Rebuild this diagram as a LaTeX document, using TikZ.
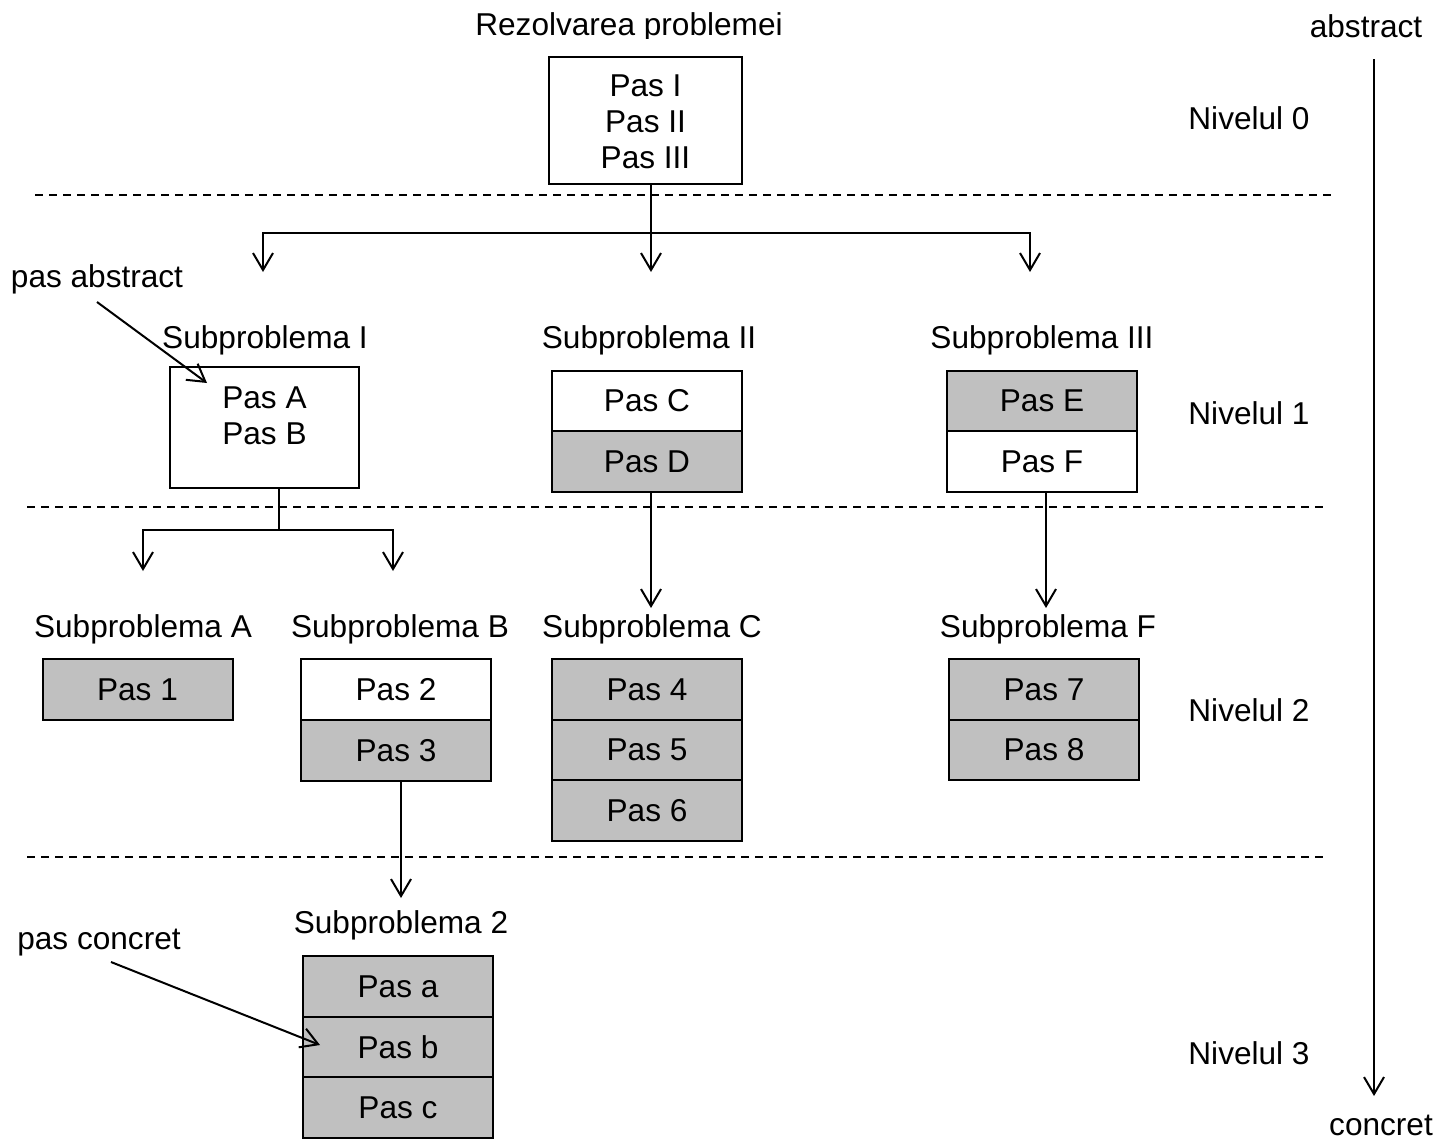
\documentclass[tikz,border=0pt]{standalone}
\usepackage{fontspec}
\setmainfont{Liberation Sans}
\usetikzlibrary{arrows.meta}
\definecolor{cellgray}{HTML}{C0C0C0}
\begin{document}
\begin{tikzpicture}[x=0.5pt,y=-0.5pt,
  font=\fontsize{15.8pt}{18pt}\selectfont,
  cell/.style={draw, line width=1pt, fill=white, minimum width=95pt,
    minimum height=30.25pt, inner sep=0pt},
  graycell/.style={cell, fill=cellgray},
  lbl/.style={inner sep=0pt, anchor=base},
  arr/.style={line width=1pt, -{Straight Barb[length=8.5pt,width=10pt,line width=1pt]}},
  levelsep/.style={line width=0.8pt, dash pattern=on 4pt off 3pt},
]
\useasboundingbox (0,0) rectangle (1449,1140);

% title, its descenders cut off by the edge above the box
\begin{scope}
  \clip (0,0) rectangle (1449,38);
  \node[lbl] (title) at (629,35) {Rezolvarea problemei};
\end{scope}

% level 0
\node[draw, line width=1pt, minimum width=96.5pt, minimum height=63.5pt, inner sep=0pt]
  (top) at (645.5,120.5) {};
\node[align=center, inner sep=0pt] (toptext) at (645.5,122) {Pas I\\Pas II\\Pas III};

% level separators
\coordinate (s1a) at (35,195);   \coordinate (s1b) at (1332,195);
\coordinate (s2a) at (27,507);   \coordinate (s2b) at (1325,507);
\coordinate (s3a) at (27,857);   \coordinate (s3b) at (1325,857);
\draw[levelsep] (s1a) -- (s1b);
\draw[levelsep] (s2a) -- (s2b);
\draw[levelsep] (s3a) -- (s3b);

% level 1
\node[lbl] (subI)   at (265,348)  {Subproblema I};
\node[lbl] (subII)  at (649,348)  {Subproblema II};
\node[lbl] (subIII) at (1042,348) {Subproblema III};

\node[draw, line width=1pt, minimum width=94.5pt, minimum height=60.5pt, inner sep=0pt]
  (boxI) at (264.5,427.5) {};
\node[align=center, inner sep=0pt] (boxItext) at (264.5,416) {Pas A\\Pas B};

\node[cell]     (pc) at (647,401)    {Pas C};
\node[graycell] (pd) at (647,461.5)  {Pas D};
\node[graycell] (pe) at (1042,401)   {Pas E};
\node[cell]     (pf) at (1042,461.5) {Pas F};

% level 2
\node[lbl] (subA) at (143,637)  {Subproblema A};
\node[lbl] (subB) at (400,637)  {Subproblema B};
\node[lbl] (subC) at (652,637)  {Subproblema C};
\node[lbl] (subF) at (1048,637) {Subproblema F};

\node[graycell] (p1) at (137.5,689.5) {Pas 1};
\node[cell]     (p2) at (396,689.5)   {Pas 2};
\node[graycell] (p3) at (396,750.5)   {Pas 3};
\node[graycell] (p4) at (647,689.5)   {Pas 4};
\node[graycell] (p5) at (647,750)     {Pas 5};
\node[graycell] (p6) at (647,810.5)   {Pas 6};
\node[graycell] (p7) at (1044,689.5)  {Pas 7};
\node[graycell] (p8) at (1044,750)    {Pas 8};

% level 3
\node[lbl] (sub2) at (401,933) {Subproblema 2};
\node[graycell] (pa) at (398,986.5)  {Pas a};
\node[graycell] (pb) at (398,1047)   {Pas b};
\node[graycell] (pcc) at (398,1107.5) {Pas c};

% level names
\node[lbl] (n0) at (1249,129)  {Nivelul 0};
\node[lbl] (n1) at (1249,424)  {Nivelul 1};
\node[lbl] (n2) at (1249,721)  {Nivelul 2};
\node[lbl] (n3) at (1249,1064) {Nivelul 3};

% abstraction axis
\node[lbl] (abs) at (1366,37)   {abstract};
\node[lbl] (con) at (1381,1135) {concret};
\coordinate (axtop) at (1374,59);
\coordinate (axbot) at (1374,1096);
\draw[arr] (axtop) -- (axbot);

% annotations
\node[lbl] (pasabs) at (97,287) {pas abstract};
\node[lbl] (pascon) at (99,949) {pas concret};
\coordinate (pasabsA) at (97,302);  \coordinate (pasabsB) at (207,383);
\coordinate (pasconA) at (111,962); \coordinate (pasconB) at (320,1045);
\draw[arr] (pasabsA) -- (pasabsB);
\draw[arr] (pasconA) -- (pasconB);

% decomposition arrows
\coordinate (j0) at (651,233);
\coordinate (t1) at (263,272);
\coordinate (t2) at (651,272);
\coordinate (t3) at (1030,272);
\draw[line width=1pt] (top.south -| j0) -- (j0);
\draw[arr] (j0) -- (t2);
\draw[arr] (j0) -| (t1);
\draw[arr] (j0) -| (t3);

\coordinate (j1) at (279,530);
\coordinate (tA) at (143,571);
\coordinate (tB) at (393,571);
\draw[line width=1pt] (boxI.south -| j1) -- (j1);
\draw[arr] (j1) -| (tA);
\draw[arr] (j1) -| (tB);

\coordinate (tC) at (651,608);
\coordinate (tF) at (1046,608);
\coordinate (t2b) at (401,898);
\draw[arr] (pd.south -| tC) -- (tC);
\draw[arr] (pf.south -| tF) -- (tF);
\draw[arr] (p3.south -| t2b) -- (t2b);
\end{tikzpicture}
\end{document}
